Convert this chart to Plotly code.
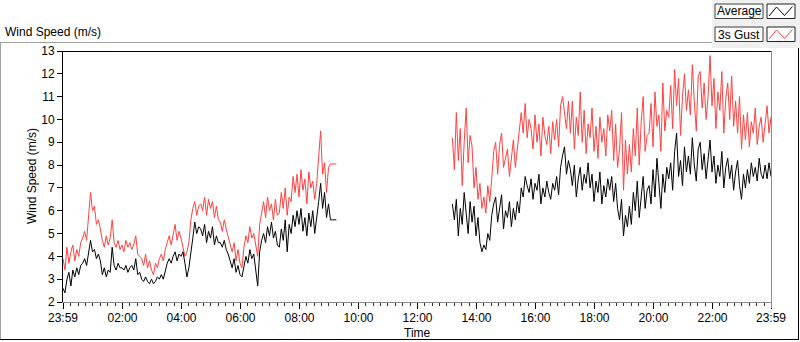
import plotly.graph_objects as go

# ---------------- data ----------------
series_names = ["Average", "3s Gust"]
chart_label = "Wind Speed (m/s)"
y_title = "Wind Speed (m/s)"
x_title = "Time"

# sample times are minutes after the 23:59 start of the window
night_start_min = 0
day_start_min = 792
step_min = 4

avg_night = [
    2.6, 2.4, 3.0, 3.3, 2.7, 3.4, 3.1, 3.5, 3.2, 3.6,
    3.7, 3.9, 3.6, 4.1, 4.7, 4.2, 4.3, 3.9, 4.1, 3.8,
    3.2, 3.5, 3.1, 3.4, 3.3, 4.4, 3.6, 3.4, 3.7, 3.5,
    3.5, 3.4, 3.6, 3.3, 3.5, 3.6, 3.4, 3.9, 3.2, 3.3,
    3.0, 2.9, 3.1, 2.9, 2.8, 3.0, 2.8, 2.9, 3.1, 3.0,
    3.2, 3.0, 3.4, 3.7, 3.9, 3.7, 4.0, 4.2, 3.8, 4.1,
    4.0, 4.2, 3.7, 3.1, 3.5, 4.3, 4.8, 5.5, 5.0, 5.3,
    5.2, 4.9, 5.4, 4.6, 5.1, 4.8, 5.3, 4.5, 4.9, 4.6,
    4.6, 4.4, 4.7, 4.3, 4.1, 3.8, 3.5, 3.9, 3.3, 3.6,
    3.2, 3.1, 3.6, 4.0, 3.7, 4.3, 3.9, 4.1, 3.4, 2.7,
    4.2, 4.7, 5.0, 4.6, 5.3, 4.9, 5.5, 4.8, 5.1, 4.5,
    4.4, 5.2, 4.7, 5.6, 4.2, 5.4, 5.0, 5.8, 5.3, 6.0,
    5.4, 6.1, 5.1, 5.7, 4.9, 5.9, 5.3, 6.0, 5.0, 5.6,
    6.4, 7.2, 6.1, 6.8, 5.7, 6.3, 5.6, 5.6, 5.6, 5.6,
]
gust_night = [
    3.9, 3.4, 4.4, 3.7, 4.2, 4.5, 3.8, 4.3, 4.0, 4.6,
    4.8, 5.1, 4.7, 5.6, 6.8, 6.0, 6.2, 5.4, 5.6, 5.2,
    4.7, 4.4, 4.9, 4.5, 4.8, 5.6, 4.6, 4.4, 4.7, 4.3,
    4.5, 4.2, 4.7, 4.4, 4.6, 4.3, 4.5, 4.9, 4.1, 4.0,
    3.9, 3.6, 4.1, 3.5, 3.8, 3.4, 3.2, 3.7, 3.5, 3.9,
    4.1, 3.8, 4.3, 4.6, 4.9, 4.5, 5.0, 5.4, 4.7, 5.1,
    4.8, 4.4, 4.0, 4.2, 4.6, 5.6, 6.1, 6.4, 5.8, 6.2,
    6.3, 6.0, 6.6, 5.8, 6.5, 6.1, 6.4, 5.7, 6.2, 5.6,
    5.5, 5.1, 5.6, 5.2, 4.9, 4.5, 4.2, 4.6, 3.8, 4.3,
    3.7, 3.5, 4.4, 4.9, 4.6, 5.3, 4.8, 5.0, 4.4, 4.0,
    5.4, 5.9, 6.4, 5.7, 6.6, 6.0, 6.3, 5.6, 6.5, 5.8,
    5.9, 6.8, 6.1, 7.0, 5.8, 6.6, 6.4, 7.5, 6.8, 7.6,
    6.6, 7.8, 6.9, 7.4, 6.3, 7.7, 7.0, 7.3, 6.5, 7.2,
    8.3, 9.5, 7.6, 8.1, 6.8, 7.9, 8.05, 8.05, 8.05, 8.05,
]
avg_day = [
    6.3, 5.6, 6.5, 4.9, 6.1, 5.4, 6.8, 5.8, 5.0, 6.4,
    5.5, 6.2, 4.9, 5.7, 4.6, 4.2, 4.5, 4.3, 5.0, 4.7,
    5.8, 6.3, 6.6, 5.5, 6.2, 6.7, 5.2, 6.0, 5.7, 6.4,
    5.3, 6.1, 5.6, 6.4, 5.9, 7.0, 6.6, 7.5, 7.1, 6.8,
    7.4, 6.5, 7.2, 6.9, 7.6, 6.3, 7.0, 6.6, 7.3, 6.8,
    6.5, 7.2, 6.9, 7.5, 6.7, 7.9, 8.4, 8.8, 7.6, 8.2,
    7.8, 7.1, 8.0, 6.6, 7.4, 7.9, 6.9, 7.6, 7.2, 8.1,
    7.0, 7.6, 6.4, 7.3, 6.8, 7.7, 6.3, 7.1, 6.6, 7.4,
    6.9, 7.5, 6.4, 7.2, 6.1, 5.6, 6.5, 4.9, 5.8, 5.3,
    6.2, 5.4, 6.8, 6.0, 7.3, 5.7, 6.6, 7.5, 6.1, 6.9,
    7.1, 6.3, 7.8, 6.6, 8.3, 7.0, 6.1, 7.6, 6.8, 7.9,
    7.4, 8.1, 6.9, 8.6, 9.4, 7.5, 8.2, 7.1, 8.8, 7.7,
    8.4, 7.6, 9.2, 8.0, 7.3, 8.7, 9.0, 7.8, 8.5, 7.4,
    8.2, 9.1, 7.7, 8.4, 7.2, 8.0, 7.5, 8.6, 7.0, 7.9,
    8.3, 7.4, 8.0, 6.9, 7.7, 8.2, 7.1, 6.5, 7.6, 7.0,
    7.8, 7.2, 8.1, 7.5, 7.9, 7.3, 8.3, 7.6, 7.4, 8.0,
    7.4, 8.1, 7.5,
]
gust_day = [
    9.2, 7.8, 10.3, 8.2, 9.6, 7.1, 9.0, 10.5, 8.1, 9.3,
    8.8, 7.0, 7.9, 6.5, 7.2, 6.1, 6.6, 5.9, 7.1, 6.4,
    7.4, 8.6, 9.0, 7.6, 8.9, 9.4, 7.9, 8.3, 8.7, 7.5,
    8.2, 9.1, 7.9, 8.8, 9.5, 10.3, 9.4, 10.7, 9.2, 10.0,
    9.6, 8.7, 10.2, 9.0, 9.8, 8.4, 10.1, 9.3, 8.9, 9.7,
    8.5, 9.9, 9.1, 10.0, 8.8, 10.6, 11.0, 10.3, 9.6, 10.8,
    9.4, 10.8, 8.7, 10.1, 9.3, 11.2, 9.0, 10.4, 8.5, 9.8,
    9.2, 10.5, 8.6, 9.7, 8.3, 10.1, 9.0, 9.6, 8.4, 10.2,
    9.5, 10.4, 8.2, 9.8, 7.9, 8.7, 10.3, 6.9, 9.1, 7.6,
    8.9, 7.7, 9.6, 8.4, 10.5, 8.0, 9.9, 11.0, 8.6, 9.3,
    9.4, 10.7, 8.8, 11.2, 9.7, 10.2, 8.6, 11.6, 9.5, 10.4,
    10.1, 11.5, 9.6, 12.2, 10.6, 11.8, 9.3, 11.0, 12.0, 10.4,
    11.3, 10.2, 12.4, 10.8, 9.5, 11.9, 12.1, 10.5, 11.6, 10.0,
    11.0, 12.8, 10.6, 11.8, 9.6, 11.2, 10.4, 12.1, 9.4, 10.9,
    11.6, 10.0, 11.9, 9.7, 10.8, 9.4, 11.0, 8.7, 10.2, 9.1,
    10.3, 8.8, 9.9, 9.4, 10.5, 8.9, 9.7, 10.1, 9.0, 9.8,
    10.6, 9.4, 10.1,
]

x_tick_minutes = [0, 121, 241, 361, 481, 601, 721, 841, 961, 1081, 1201, 1321, 1440]
x_tick_labels = ["23:59", "02:00", "04:00", "06:00", "08:00", "10:00", "12:00",
                 "14:00", "16:00", "18:00", "20:00", "22:00", "23:59"]
y_tick_values = [2, 3, 4, 5, 6, 7, 8, 9, 10, 11, 12, 13]

# ---------------- build ----------------
t_night = [night_start_min + step_min * i for i in range(len(avg_night))]
t_day = [day_start_min + step_min * i for i in range(len(avg_day))]
xs = t_night + [None] + t_day
avg_all = avg_night + [None] + avg_day
gust_all = gust_night + [None] + gust_day

minor_vals = [m for m in range(1, 1440, 15) if m not in x_tick_minutes]

W, H = 800, 342
L, R, T, B = 63, 771, 51, 302
FONT = "Liberation Sans, Arial, sans-serif"


def px(x):
    return (x - L) / (R - L)


def py(y):
    return (B - y) / (B - T)


fig = go.Figure()
fig.add_trace(go.Scatter(x=xs, y=gust_all, mode="lines", name=series_names[1],
                         line=dict(color="#ff4040", width=1), connectgaps=False))
fig.add_trace(go.Scatter(x=xs, y=avg_all, mode="lines", name=series_names[0],
                         line=dict(color="#000000", width=1), connectgaps=False))

shapes = []


def line(x0, y0, x1, y1, color, width=1):
    shapes.append(dict(type="line", xref="paper", yref="paper",
                       x0=px(x0), y0=py(y0), x1=px(x1), y1=py(y1),
                       line=dict(color=color, width=width)))


def rect(x0, y0, x1, y1, fill, color=None):
    shapes.append(dict(type="rect", xref="paper", yref="paper",
                       x0=px(x0), y0=py(y0), x1=px(x1), y1=py(y1),
                       fillcolor=fill,
                       line=dict(color=color or fill, width=1 if color else 0),
                       layer="below" if color is None else "above"))


# legend panel background
rect(712, 0, 800, 48, "#f0f0f0")
# outer frame
line(0, 42.5, 712, 42.5, "#a0a0a0")
line(0.5, 42, 0.5, 340, "#a0a0a0")
line(0, 339.5, 799, 339.5, "#000000")
line(798.5, 48, 798.5, 340, "#000000")
# plot frame (top black, right grey)
line(63, 51.5, 771.5, 51.5, "#000000")
line(771.5, 51, 771.5, 308, "#8c8c8c")

# legend boxes
annotations = []
for k, (name, col, y0) in enumerate([(series_names[0], "#000000", 4),
                                      (series_names[1], "#ff4040", 27)]):
    rect(715, y0, 763, y0 + 14.5, "#fafafa", "#404040")
    rect(767, y0, 795, y0 + 14.5, "#ffffff", "#202020")
    pts = [(769, y0 + 12), (776.5, y0 + 3), (784.5, y0 + 11.5), (792.5, y0 + 2.5)]
    path = "M " + " L ".join(f"{px(a):.5f},{py(b):.5f}" for a, b in pts)
    shapes.append(dict(type="path", xref="paper", yref="paper", path=path,
                       line=dict(color=col, width=1)))
    annotations.append(dict(text=name, xref="paper", yref="paper",
                            x=px(739), y=py(y0 + 7.5), showarrow=False,
                            xanchor="center", yanchor="middle",
                            font=dict(family=FONT, size=12, color="#000000")))

annotations.append(dict(text=chart_label, xref="paper", yref="paper",
                        x=px(3), y=py(32), showarrow=False,
                        xanchor="left", yanchor="middle",
                        font=dict(family=FONT, size=12, color="#000000")))
annotations.append(dict(text=y_title, xref="paper", yref="paper",
                        x=px(32), y=py(176), showarrow=False, textangle=-90,
                        xanchor="center", yanchor="middle",
                        font=dict(family=FONT, size=12, color="#000000")))
annotations.append(dict(text=x_title, xref="paper", yref="paper",
                        x=px(417), y=py(333), showarrow=False,
                        xanchor="center", yanchor="middle",
                        font=dict(family=FONT, size=12, color="#000000")))

fig.update_layout(
    width=W, height=H,
    margin=dict(l=L, r=W - R, t=T, b=H - B, pad=0),
    paper_bgcolor="#ffffff", plot_bgcolor="#ffffff",
    showlegend=False,
    shapes=shapes, annotations=annotations,
    font=dict(family=FONT, size=12, color="#000000"),
)
fig.update_xaxes(
    range=[0, 1440], tickmode="array", tickvals=x_tick_minutes, ticktext=x_tick_labels,
    showgrid=False, zeroline=False, showline=True, linecolor="#8c8c8c", linewidth=1,
    ticks="outside", ticklen=6, tickcolor="#000000", tickwidth=1,
    ticklabelstandoff=-1,
    tickfont=dict(family=FONT, size=12, color="#000000"),
    minor=dict(tickvals=minor_vals, ticks="outside", ticklen=3,
               tickcolor="#303030", tickwidth=1, showgrid=False),
)
fig.update_yaxes(
    range=[2, 13], tickmode="array", tickvals=y_tick_values,
    showgrid=False, zeroline=False, showline=True, linecolor="#000000", linewidth=1,
    ticks="outside", ticklen=5, tickcolor="#000000", tickwidth=1,
    tickfont=dict(family=FONT, size=12, color="#000000"),
)

fig.write_html("out.html", config={"displayModeBar": False},
               post_script="document.body.style.margin='0';document.body.style.overflow='hidden';")
